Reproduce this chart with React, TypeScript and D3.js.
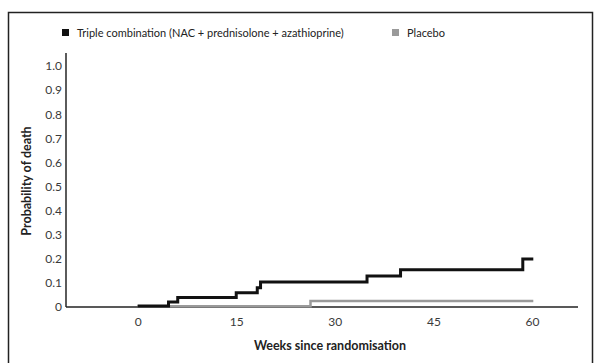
import React, { useRef, useEffect } from "react";
import { select, scaleLinear, line, curveStepAfter, axisBottom, axisLeft } from "d3";

// Kaplan-Meier style step curves
const tripleWeeks = [0, 4.7, 6.1, 15.0, 18.2, 18.7, 34.9, 40.0, 58.6, 60.2];
const tripleProb = [0.004, 0.021, 0.039, 0.059, 0.08, 0.104, 0.129, 0.155, 0.199, 0.199];
const placeboWeeks = [0, 26.3, 60.2];
const placeboProb = [0.003, 0.025, 0.025];

const xTicks = [0, 15, 30, 45, 60];
const yTicks = [0, 0.1, 0.2, 0.3, 0.4, 0.5, 0.6, 0.7, 0.8, 0.9, 1.0];
const legendLabels = ["Triple combination (NAC + prednisolone + azathioprine)", "Placebo"];
const seriesColors = ["#111111", "#9a9a9a"];

const FONT = "Lato, 'Open Sans', sans-serif";

function App() {
  const svgRef = useRef<SVGSVGElement>(null);

  useEffect(() => {
    const svg = select(svgRef.current);
    svg.selectAll("*").remove();

    // plot area
    const xScale = scaleLinear().domain([-10.9, 67]).range([66, 578]);
    const yScale = scaleLinear().domain([0, 1]).range([307, 66]);

    // outer frame
    svg
      .append("rect")
      .attr("x", 8.5)
      .attr("y", 12.5)
      .attr("width", 584)
      .attr("height", 400)
      .attr("fill", "none")
      .attr("stroke", "#222")
      .attr("stroke-width", 1.5);

    // y axis
    const yAxis = axisLeft(yScale)
      .tickValues(yTicks)
      .tickSize(0)
      .tickPadding(4)
      .tickFormat(d => (d === 0 ? "0" : (d as number).toFixed(1)));
    const gy = svg.append("g").attr("transform", `translate(${xScale(-10.9)},0)`).call(yAxis);
    gy.select(".domain").remove();
    gy.selectAll("text")
      .attr("font-family", FONT)
      .attr("font-size", 12)
      .attr("fill", "#3a3a3a");

    // x axis
    const xAxis = axisBottom(xScale).tickValues(xTicks).tickSize(0).tickPadding(10);
    const gx = svg.append("g").attr("transform", `translate(0,${yScale(0)})`).call(xAxis);
    gx.select(".domain").remove();
    gx.selectAll("text")
      .attr("font-family", FONT)
      .attr("font-size", 12)
      .attr("fill", "#3a3a3a");

    // axis lines drawn by hand so they match the L shape
    svg
      .append("line")
      .attr("x1", xScale(-10.9))
      .attr("x2", xScale(-10.9))
      .attr("y1", yScale(1.054))
      .attr("y2", yScale(0))
      .attr("stroke", "#333")
      .attr("stroke-width", 1.6);
    svg
      .append("line")
      .attr("x1", xScale(-10.9))
      .attr("x2", xScale(67))
      .attr("y1", yScale(0))
      .attr("y2", yScale(0))
      .attr("stroke", "#222")
      .attr("stroke-width", 1.6);

    // step curves
    const stepLine = line<[number, number]>()
      .x(d => xScale(d[0]))
      .y(d => yScale(d[1]))
      .curve(curveStepAfter);

    const placebo = placeboWeeks.map((w, i) => [w, placeboProb[i]] as [number, number]);
    const triple = tripleWeeks.map((w, i) => [w, tripleProb[i]] as [number, number]);

    svg
      .append("path")
      .attr("d", stepLine(placebo))
      .attr("fill", "none")
      .attr("stroke", seriesColors[1])
      .attr("stroke-width", 2.5);

    svg
      .append("path")
      .attr("d", stepLine(triple))
      .attr("fill", "none")
      .attr("stroke", seriesColors[0])
      .attr("stroke-width", 3);

    // axis titles
    svg
      .append("text")
      .attr("x", 330)
      .attr("y", 350)
      .attr("text-anchor", "middle")
      .attr("font-family", FONT)
      .attr("font-weight", "bold")
      .attr("font-size", 12.5)
      .attr("fill", "#222")
      .text("Weeks since randomisation");

    svg
      .append("text")
      .attr("transform", "translate(31,181) rotate(-90)")
      .attr("text-anchor", "middle")
      .attr("font-family", FONT)
      .attr("font-weight", "bold")
      .attr("font-size", 12.5)
      .attr("fill", "#222")
      .text("Probability of death");

    // legend
    const legendX = [62, 392];
    legendLabels.forEach((label, i) => {
      svg
        .append("rect")
        .attr("x", legendX[i])
        .attr("y", 29)
        .attr("width", 7)
        .attr("height", 7)
        .attr("fill", seriesColors[i]);
      svg
        .append("text")
        .attr("x", legendX[i] + 15)
        .attr("y", 36.5)
        .attr("font-family", FONT)
        .attr("font-size", 11)
        .attr("fill", "#222")
        .text(label);
    });
  }, []);

  return (
    <svg
      ref={svgRef}
      width={594}
      height={363}
      style={{ position: "absolute", left: 0, top: 0, background: "#fff" }}
    />
  );
}

export default App;
